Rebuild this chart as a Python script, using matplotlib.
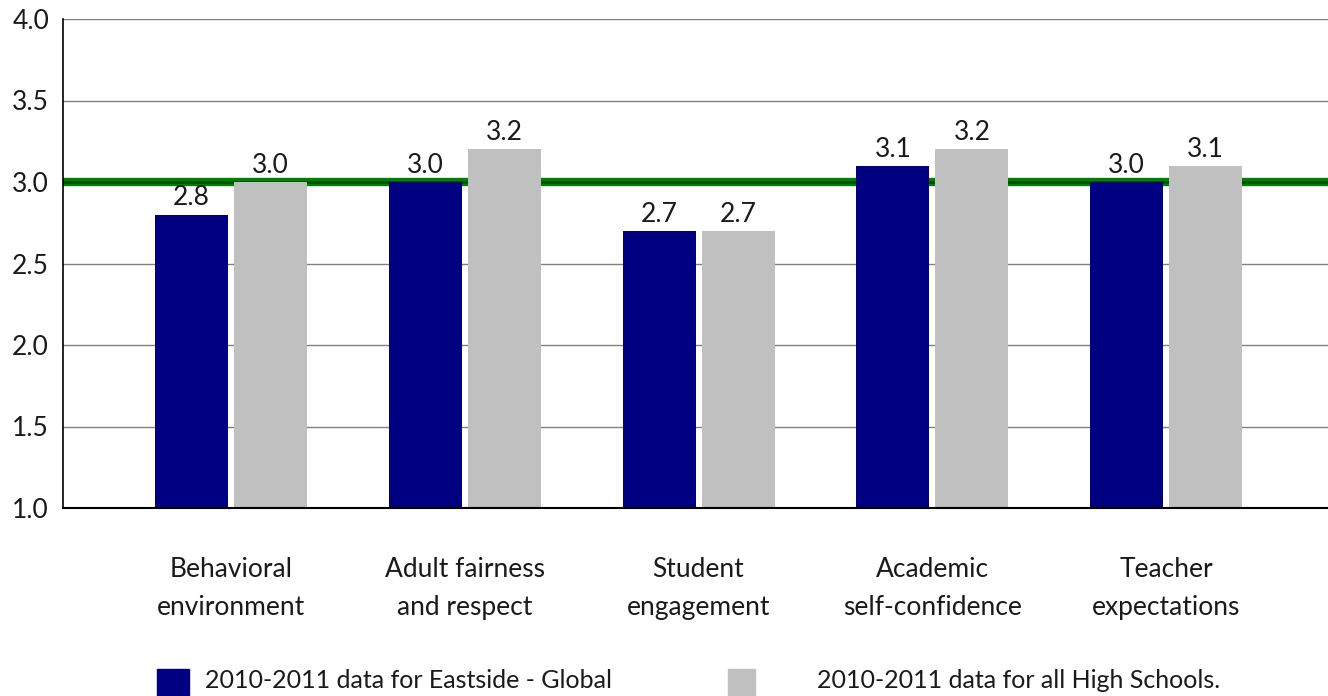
import numpy as np
import matplotlib.pyplot as plt
from matplotlib.patches import Rectangle

# data
categories = ['Behavioral\nenvironment', 'Adult fairness\nand respect', 'Student\nengagement',
              'Academic\nself-confidence', 'Teacher\nexpectations']
eastside = [2.8, 3.0, 2.7, 3.1, 3.0]
all_hs = [3.0, 3.2, 2.7, 3.2, 3.1]
benchmark = 3.0
yticks = [1.0, 1.5, 2.0, 2.5, 3.0, 3.5, 4.0]
legend_labels = ['2010-2011 data for Eastside - Global', '2010-2011 data for all High Schools.']

navy = '#000080'
silver = '#c0c0c0'
txt = '#1a1a1a'

plt.rcParams['font.family'] = ['Lato', 'DejaVu Sans']

fig = plt.figure(figsize=(13.28, 6.96), dpi=100)
W, H = 1328, 696
ax = fig.add_axes([63 / W, (H - 508) / H, (W - 63) / W, (508 - 19) / H])

x = np.arange(len(categories))
bw = 0.312
gap = 0.026
b1 = ax.bar(x - (bw + gap) / 2, eastside, bw, bottom=0, color=navy, zorder=3)
b2 = ax.bar(x + (bw + gap) / 2, all_hs, bw, bottom=0, color=silver, zorder=3)

for bars, vals in ((b1, eastside), (b2, all_hs)):
    for r, v in zip(bars, vals):
        ax.annotate(f'{v:.1f}', (r.get_x() + r.get_width() / 2, v), xytext=(0, 3),
                    textcoords='offset points', ha='center', va='bottom',
                    fontsize=19, color=txt, zorder=5)

# benchmark line
ax.axhline(benchmark, color='#008000', lw=6, zorder=2)
ax.axhline(benchmark, color='#005000', lw=2, zorder=2)

ax.set_ylim(1.0, 4.0)
ax.set_xlim(-0.718, 4.692)
ax.set_yticks(yticks)
ax.set_yticklabels([f'{t:.1f}' for t in yticks], fontsize=19, color=txt)
ax.set_xticks(x)
ax.set_xticklabels(categories, fontsize=19, color=txt, linespacing=1.66)
ax.tick_params(axis='both', length=0)
ax.tick_params(axis='y', pad=10)
ax.tick_params(axis='x', pad=35)
ax.yaxis.grid(True, color='#808080', lw=1, zorder=1)
ax.set_axisbelow(True)

for s in ('top', 'right'):
    ax.spines[s].set_visible(False)
ax.spines['left'].set_color('black')
ax.spines['left'].set_linewidth(1.2)
ax.spines['bottom'].set_color('black')
ax.spines['bottom'].set_linewidth(1.5)
ax.spines['bottom'].set_zorder(4)

# legend
def fx(px):
    return px / W

def fy(py):
    return 1 - py / H

fig.patches.append(Rectangle((fx(157), fy(695)), 32 / W, 26 / H, transform=fig.transFigure,
                             color=navy))
fig.text(fx(205), fy(681), legend_labels[0], fontsize=18, color=txt, va='center')
fig.patches.append(Rectangle((fx(728), fy(695)), 27 / W, 26 / H, transform=fig.transFigure,
                             color=silver))
fig.text(fx(817), fy(681), legend_labels[1], fontsize=18, color=txt, va='center')

fig.savefig('out.png', dpi=100)
